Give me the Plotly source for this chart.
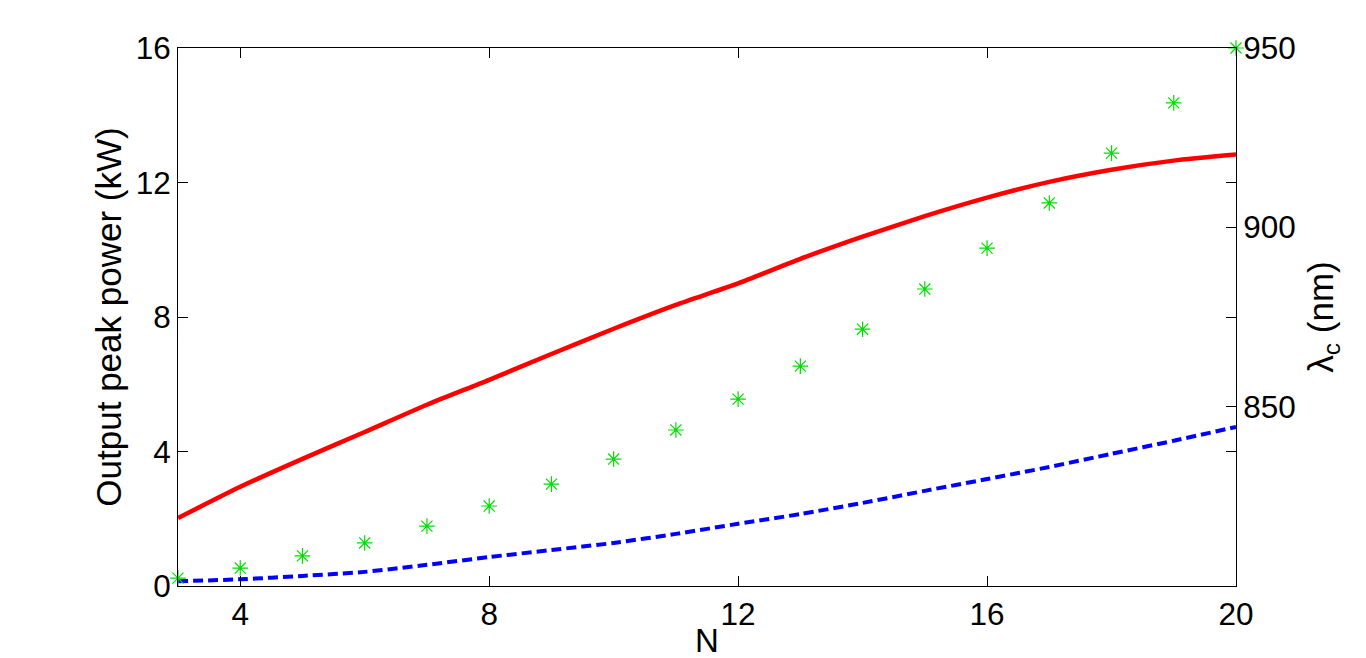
import plotly.graph_objects as go

n_values = [3, 4, 5, 6, 7, 8, 9, 10, 11, 12, 13, 14, 15, 16, 17, 18, 19, 20]
peak_power_solid = [2.02, 2.95, 3.78, 4.58, 5.39, 6.13, 6.9, 7.65, 8.36, 9.0,
                    9.73, 10.39, 11.0, 11.55, 12.02, 12.38, 12.65, 12.83]
peak_power_dashed = [0.14, 0.2, 0.3, 0.42, 0.63, 0.86, 1.07, 1.28, 1.55, 1.85,
                     2.14, 2.47, 2.83, 3.18, 3.54, 3.93, 4.32, 4.73]
lambda_c = [802.2, 805.0, 808.4, 812.0, 816.7, 822.3, 828.4, 835.4, 843.5, 852.1,
            861.3, 871.6, 882.8, 894.2, 906.8, 920.7, 934.7, 950.0]

font = "Liberation Sans, Arial, sans-serif"
tick_size = 31.5
title_size = 35

fig = go.Figure()
fig.add_trace(go.Scatter(
    x=n_values, y=peak_power_solid, mode="lines",
    line={"color": "#ff0000", "width": 4.5, "shape": "spline", "smoothing": 0.6},
    showlegend=False,
))
fig.add_trace(go.Scatter(
    x=n_values, y=peak_power_dashed, mode="lines",
    line={"color": "#0000ff", "width": 4, "dash": "10px,5px",
          "shape": "spline", "smoothing": 0.6},
    showlegend=False,
))
fig.add_trace(go.Scatter(
    x=n_values, y=lambda_c, mode="markers", yaxis="y2",
    marker={"symbol": "asterisk-open", "size": 13, "color": "#00dd00",
            "line": {"color": "#00dd00", "width": 1.2}},
    showlegend=False, cliponaxis=False,
))

axis_common = {
    "showgrid": False, "zeroline": False, "showline": True,
    "linecolor": "black", "linewidth": 1,
    "ticks": "inside", "ticklen": 10, "tickcolor": "black",
    "tickfont": {"family": font, "size": tick_size, "color": "black"},
}

# the page body adds an 8px offset, so the margins are shifted to compensate
fig.update_layout(
    width=1366, height=658,
    paper_bgcolor="white", plot_bgcolor="white",
    margin={"l": 170, "r": 138, "t": 40, "b": 80},
    font={"family": font, "color": "black"},
    xaxis={**axis_common, "range": [3, 20], "tickvals": [4, 8, 12, 16, 20],
           "mirror": "ticks"},
    yaxis={**axis_common, "range": [0, 16], "tickvals": [0, 4, 8, 12, 16],
           "mirror": "ticks",
           "title": {"text": "Output peak power (kW)",
                     "font": {"family": font, "size": title_size}, "standoff": 3}},
    yaxis2={**axis_common, "range": [800, 950], "tickvals": [850, 900, 950],
            "overlaying": "y", "side": "right",
            "title": {"text": "λ<sub>c</sub> (nm)",
                      "font": {"family": font, "size": title_size}, "standoff": 13}},
)

# x-axis title placed as an annotation so it sits closer to the tick labels
fig.add_annotation(
    text="N", xref="paper", yref="paper", x=0.5, y=0,
    xanchor="center", yanchor="top", yshift=-34, showarrow=False,
    font={"family": font, "size": 33, "color": "black"},
)

fig.write_html("out.html")
